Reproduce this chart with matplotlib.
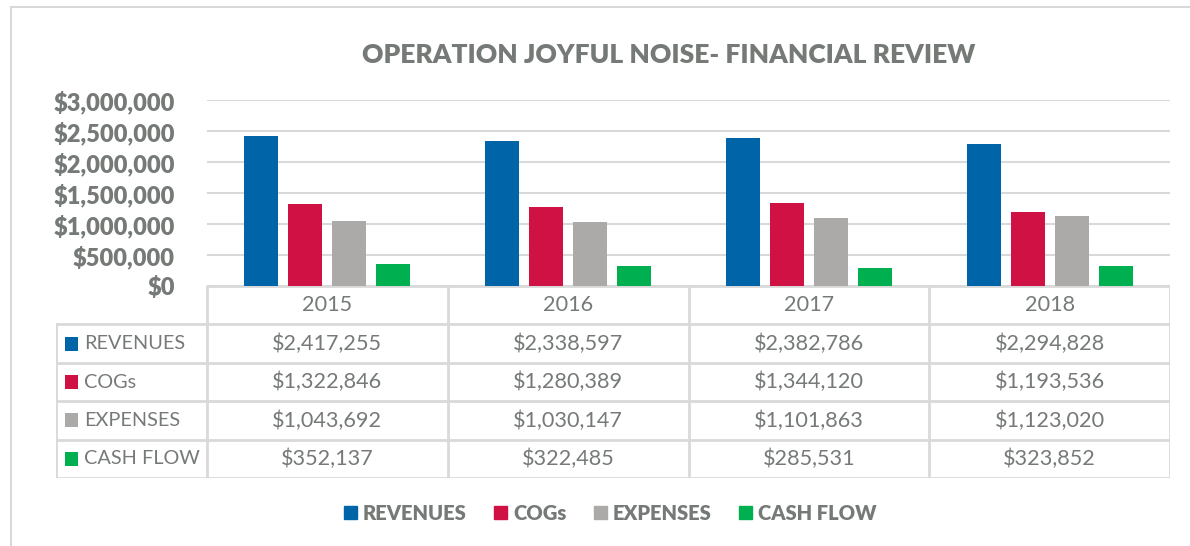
import numpy as np
import matplotlib
matplotlib.use("Agg")
import matplotlib.pyplot as plt
from matplotlib.patches import Patch, Rectangle
from matplotlib.ticker import FuncFormatter

plt.rcParams['font.family'] = ['Lato', 'DejaVu Sans']

# Data
years = ['2015', '2016', '2017', '2018']
series = ['REVENUES', 'COGs', 'EXPENSES', 'CASH FLOW']
revenues = [2417255, 2338597, 2382786, 2294828]
cogs = [1322846, 1280389, 1344120, 1193536]
expenses = [1043692, 1030147, 1101863, 1123020]
cash_flow = [352137, 322485, 285531, 323852]
values = [revenues, cogs, expenses, cash_flow]
colors = ['#0065A8', '#D01144', '#ABAAA8', '#00AF50']
yticks = [0, 500000, 1000000, 1500000, 2000000, 2500000, 3000000]

text_col = '#757a77'
grid_col = '#D9D9D9'

W, H = 1190, 546
fig = plt.figure(figsize=(W / 100, H / 100), dpi=100)

# outer chart border
fig.patches.append(Rectangle((11 / W, -0.1), 1.2, 1.1 - 7 / H, transform=fig.transFigure,
                             fill=False, ec=grid_col, lw=1.5))

# bar axis
left, right = 207, 1170
top, bottom = 100, 286
ax = fig.add_axes([left / W, 1 - bottom / H, (right - left) / W, (bottom - top) / H])
x = np.arange(len(years))
bw = 34 / 240.75
step = 44 / 240.75
for i, (name, vals) in enumerate(zip(series, values)):
    ax.bar(x + (i - 1.5) * step, vals, width=bw, color=colors[i], label=name, zorder=3)
ax.set_xlim(-0.5, len(years) - 0.5)
ax.set_ylim(0, 3000000)
ax.set_yticks(yticks)
ax.yaxis.set_major_formatter(FuncFormatter(lambda v, p: '${:,.0f}'.format(v)))
ax.tick_params(axis='y', length=0, pad=23, labelsize=17, labelcolor=text_col)
for lb in ax.get_yticklabels():
    lb.set_fontweight('heavy')
ax.set_xticks([])
ax.grid(axis='y', color=grid_col, lw=1.5, zorder=0)
for s in ax.spines.values():
    s.set_visible(False)

# data table below
lw = 151 / 240.75
nrows = len(series) + 1
tx0 = 56
tb = 478
tax = fig.add_axes([tx0 / W, 1 - tb / H, (right - tx0) / W, (tb - bottom) / H])
tax.set_xlim(-0.5 - lw, len(years) - 0.5)
tax.set_ylim(nrows, 0)
tax.axis('off')
lc = dict(color=grid_col, lw=2, solid_capstyle='projecting')
# horizontal lines
tax.plot([-0.5, len(years) - 0.5], [0, 0], **lc)
for r in range(1, nrows + 1):
    tax.plot([-0.5 - lw, len(years) - 0.5], [r, r], **lc)
# vertical lines
tax.plot([-0.5 - lw, -0.5 - lw], [1, nrows], **lc)
for c in range(len(years) + 1):
    tax.plot([c - 0.5, c - 0.5], [0, nrows], **lc)

fs_tab = 15.6
for c, yr in enumerate(years):
    tax.text(c, 0.5, yr, ha='center', va='center', fontsize=fs_tab, color=text_col)
for r, (name, vals) in enumerate(zip(series, values)):
    tax.add_patch(Rectangle((-0.5 - lw + 9 / 240.75, r + 1.5 - 0.18), 13 / 240.75, 0.36,
                            color=colors[r], lw=0))
    tax.text(-0.5 - lw + 28 / 240.75, r + 1.5, name, ha='left', va='center',
             fontsize=14.3, color=text_col)
    for c, v in enumerate(vals):
        tax.text(c, r + 1.5, '${:,.0f}'.format(v), ha='center', va='center',
                 fontsize=fs_tab, color=text_col)

# title
fig.text(669 / W, 1 - 55 / H, 'OPERATION JOYFUL NOISE- FINANCIAL REVIEW', ha='center', va='center',
         fontsize=19, fontweight='heavy', color=text_col)

# legend
handles = [Patch(color=c, label=s) for c, s in zip(colors, series)]
fig.legend(handles=handles, loc='center', bbox_to_anchor=(610 / W, 1 - 513 / H), ncol=4,
           frameon=False, handlelength=0.65, handleheight=0.65, handletextpad=0.3,
           columnspacing=1.35, prop={'weight': 'heavy', 'size': 14.5}, labelcolor=text_col)

fig.savefig('out.png', dpi=100, facecolor='white')
